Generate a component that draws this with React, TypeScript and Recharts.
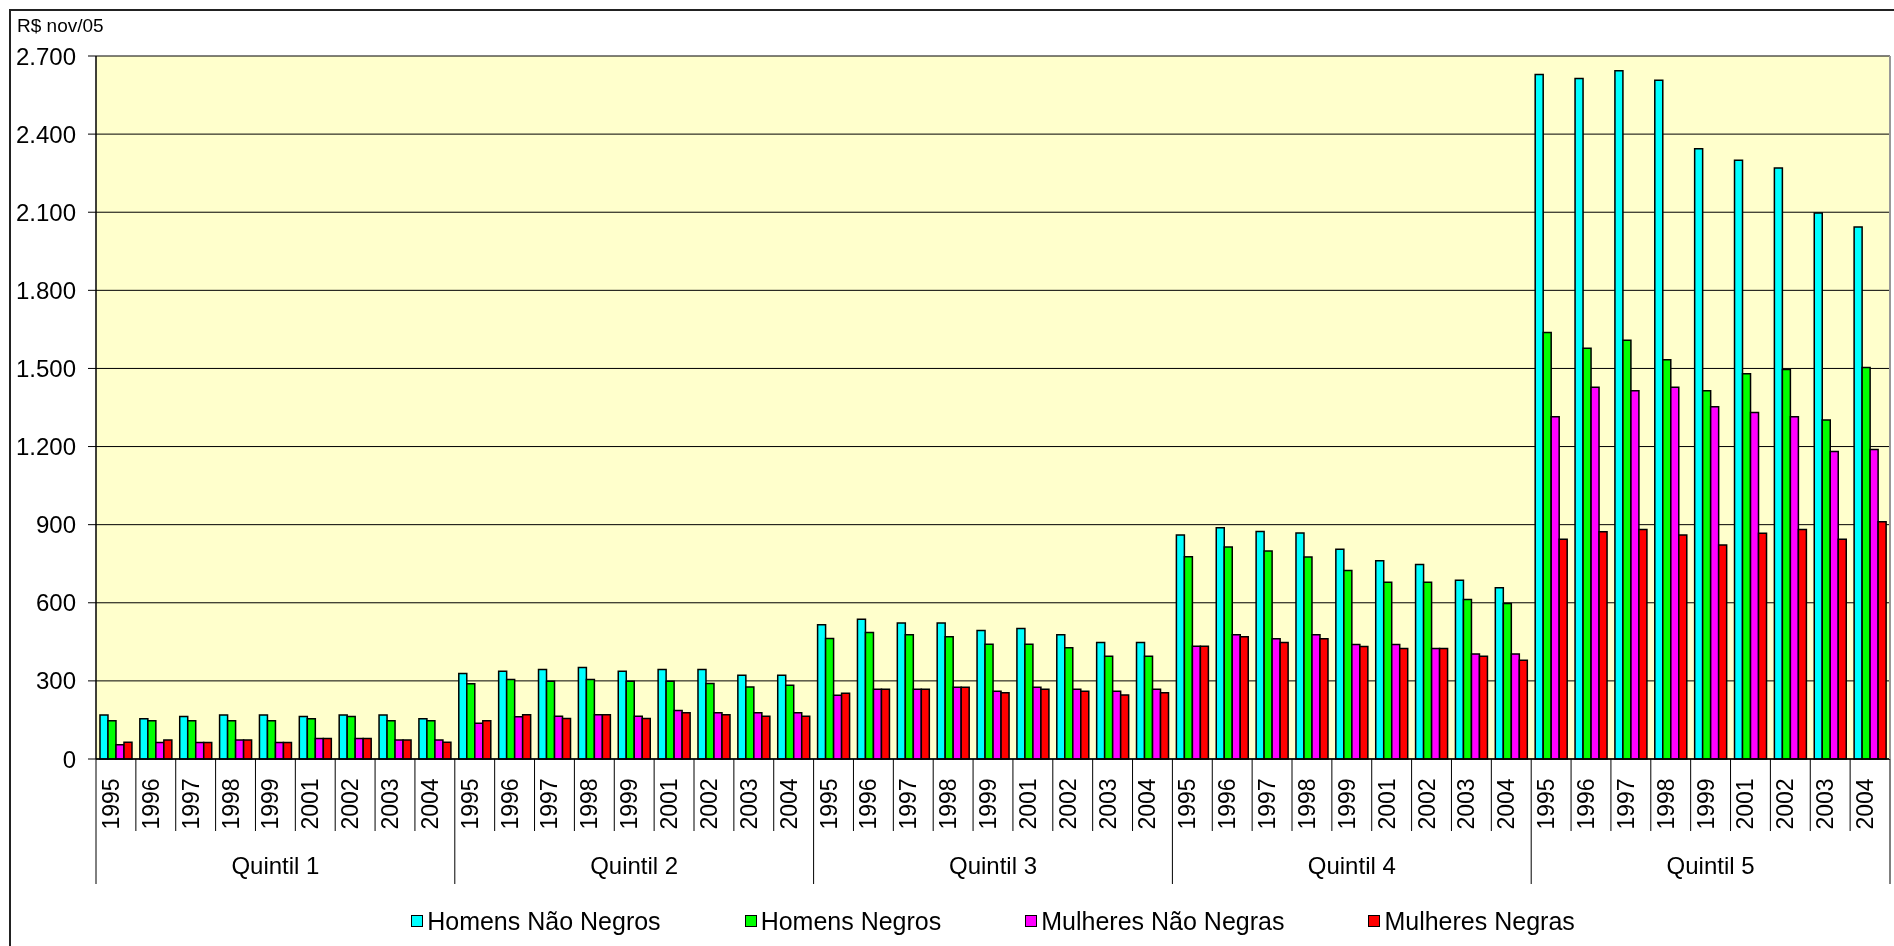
import React from 'react';
import { BarChart, Bar, XAxis, YAxis, CartesianGrid, Legend } from 'recharts';

const FONT = '"Liberation Sans", Arial, sans-serif';

const quintis = ['Quintil 1', 'Quintil 2', 'Quintil 3', 'Quintil 4', 'Quintil 5'];
const anos = ['1995', '1996', '1997', '1998', '1999', '2001', '2002', '2003', '2004'];

const homensNaoNegros = [
  169, 155, 163, 169, 169, 163, 169, 169, 155,
  328, 337, 344, 351, 337, 344, 344, 322, 322,
  516, 537, 522, 522, 494, 501, 477, 447, 447,
  860, 888, 874, 868, 806, 761, 747, 687, 658,
  2629, 2614, 2643, 2607, 2344, 2300, 2270, 2097, 2043,
];
const homensNegros = [
  147, 147, 147, 147, 147, 155, 163, 147, 147,
  289, 305, 299, 305, 299, 299, 290, 277, 283,
  463, 486, 477, 470, 441, 441, 427, 395, 395,
  777, 814, 799, 776, 724, 679, 679, 613, 597,
  1638, 1578, 1608, 1533, 1414, 1480, 1496, 1302, 1504,
];
const mulheresNaoNegras = [
  55, 63, 63, 73, 63, 79, 79, 73, 73,
  137, 162, 164, 170, 164, 186, 178, 178, 178,
  245, 268, 268, 276, 260, 276, 268, 260, 268,
  433, 477, 462, 477, 440, 440, 424, 403, 403,
  1314, 1428, 1414, 1428, 1353, 1331, 1314, 1181, 1189,
];
const mulheresNegras = [
  64, 73, 63, 73, 63, 79, 79, 73, 64,
  147, 170, 156, 170, 156, 178, 170, 164, 164,
  253, 268, 268, 276, 254, 268, 260, 246, 254,
  433, 470, 447, 462, 432, 424, 424, 395, 379,
  844, 873, 881, 860, 822, 867, 881, 844, 911,
];
const yTicks = [0, 300, 600, 900, 1200, 1500, 1800, 2100, 2400, 2700];

const series = [
  { key: 'hnn', nome: 'Homens Não Negros', cor: '#00FFFF' },
  { key: 'hn', nome: 'Homens Negros', cor: '#00FF00' },
  { key: 'mnn', nome: 'Mulheres Não Negras', cor: '#FF00FF' },
  { key: 'mn', nome: 'Mulheres Negras', cor: '#FF0000' },
];

const dados = quintis.flatMap((q, qi) =>
  anos.map((ano, ai) => {
    const i = qi * anos.length + ai;
    return {
      ano,
      quintil: q,
      hnn: homensNaoNegros[i],
      hn: homensNegros[i],
      mnn: mulheresNaoNegras[i],
      mn: mulheresNegras[i],
    };
  })
);

const fmt = (v: number) => String(v).replace(/\B(?=(\d{3})+(?!\d))/g, '.');

const ANO_H = 72;
const QUINTIL_H = 53;

function AnoTick(props: any) {
  const { x, y, payload, index } = props;
  const half = payload?.offset ?? 19.93;
  const cy = y + 45;
  const ultimo = index === dados.length - 1;
  return (
    <g>
      <line x1={x - half} x2={x - half} y1={y} y2={y + ANO_H} stroke="#000" strokeWidth={1} />
      {ultimo && <line x1={x + half} x2={x + half} y1={y} y2={y + ANO_H} stroke="#000" strokeWidth={1} />}
      <text
        x={x + 3}
        y={cy}
        transform={`rotate(-90 ${x + 3} ${cy})`}
        textAnchor="middle"
        fontSize={23}
        fontFamily={FONT}
        fill="#000"
      >
        {payload.value}
      </text>
    </g>
  );
}

function QuintilTick(props: any) {
  const { x, y, payload, index } = props;
  const half = payload?.offset ?? 19.93;
  const n = anos.length;
  return (
    <g>
      {index % n === 0 && (
        <line x1={x - half} x2={x - half} y1={y} y2={y + QUINTIL_H} stroke="#000" strokeWidth={1} />
      )}
      {index === dados.length - 1 && (
        <line x1={x + half} x2={x + half} y1={y} y2={y + QUINTIL_H} stroke="#000" strokeWidth={1} />
      )}
      {index % n === Math.floor(n / 2) && (
        <text x={x} y={y + 43} textAnchor="middle" fontSize={24} fontFamily={FONT} fill="#000">
          {payload.value}
        </text>
      )}
    </g>
  );
}

function Legenda() {
  return (
    <div
      style={{
        display: 'flex',
        justifyContent: 'center',
        alignItems: 'center',
        gap: 84,
        fontFamily: FONT,
        fontSize: 25,
        color: '#000',
        lineHeight: '30px',
      }}
    >
      {series.map((s) => (
        <div key={s.key} style={{ display: 'flex', alignItems: 'center' }}>
          <span
            style={{
              width: 10,
              height: 10,
              background: s.cor,
              border: '1.5px solid #000',
              marginRight: 4,
              display: 'inline-block',
            }}
          />
          <span>{s.nome}</span>
        </div>
      ))}
    </div>
  );
}

export default function App() {
  return (
    <div>
      <div
        style={{
          position: 'fixed',
          left: 9,
          top: 9,
          width: 1900,
          height: 950,
          borderLeft: '2px solid #222',
          borderTop: '2px solid #222',
        }}
      />
      <div
        style={{
          position: 'fixed',
          left: 17,
          top: 16,
          fontFamily: FONT,
          fontSize: 19,
          lineHeight: '20px',
          color: '#000',
        }}
      >
        R$ nov/05
      </div>
      <div style={{ position: 'fixed', left: 0, top: 0 }}>
        <BarChart
          width={1894}
          height={946}
          data={dados}
          margin={{ top: 56, right: 0, left: 0, bottom: 62 }}
          barCategoryGap="10%"
          barGap={0}
        >
          <CartesianGrid vertical={false} stroke="#000" strokeWidth={1} fill="#FFFFCC" fillOpacity={1} />
          <XAxis
            dataKey="ano"
            interval={0}
            height={ANO_H}
            tickLine={false}
            tickSize={0}
            tickMargin={0}
            axisLine={{ stroke: '#000', strokeWidth: 1.5 }}
            tick={<AnoTick />}
          />
          <XAxis
            xAxisId="q"
            dataKey="quintil"
            interval={0}
            height={QUINTIL_H}
            tickLine={false}
            tickSize={0}
            tickMargin={0}
            axisLine={false}
            tick={<QuintilTick />}
          />
          <YAxis
            width={96}
            domain={[0, 2700]}
            ticks={yTicks}
            interval={0}
            tickSize={8}
            tickMargin={12}
            tickFormatter={fmt}
            axisLine={{ stroke: '#000', strokeWidth: 1.5 }}
            tickLine={{ stroke: '#000' }}
            tick={{ fill: '#000', fontSize: 24, fontFamily: FONT }}
          />
          <YAxis
            yAxisId="r"
            orientation="right"
            width={4}
            domain={[0, 2700]}
            tick={false}
            tickLine={false}
            axisLine={{ stroke: '#999', strokeWidth: 2 }}
          />
          <Legend
            layout="horizontal"
            verticalAlign="middle"
            align="center"
            wrapperStyle={{ top: 906, left: 96, width: 1794, height: 30 }}
            content={<Legenda />}
          />
          {series.map((s) => (
            <Bar
              key={s.key}
              dataKey={s.key}
              name={s.nome}
              fill={s.cor}
              stroke="#000"
              strokeWidth={1.5}
              isAnimationActive={false}
            />
          ))}
        </BarChart>
      </div>
    </div>
  );
}
